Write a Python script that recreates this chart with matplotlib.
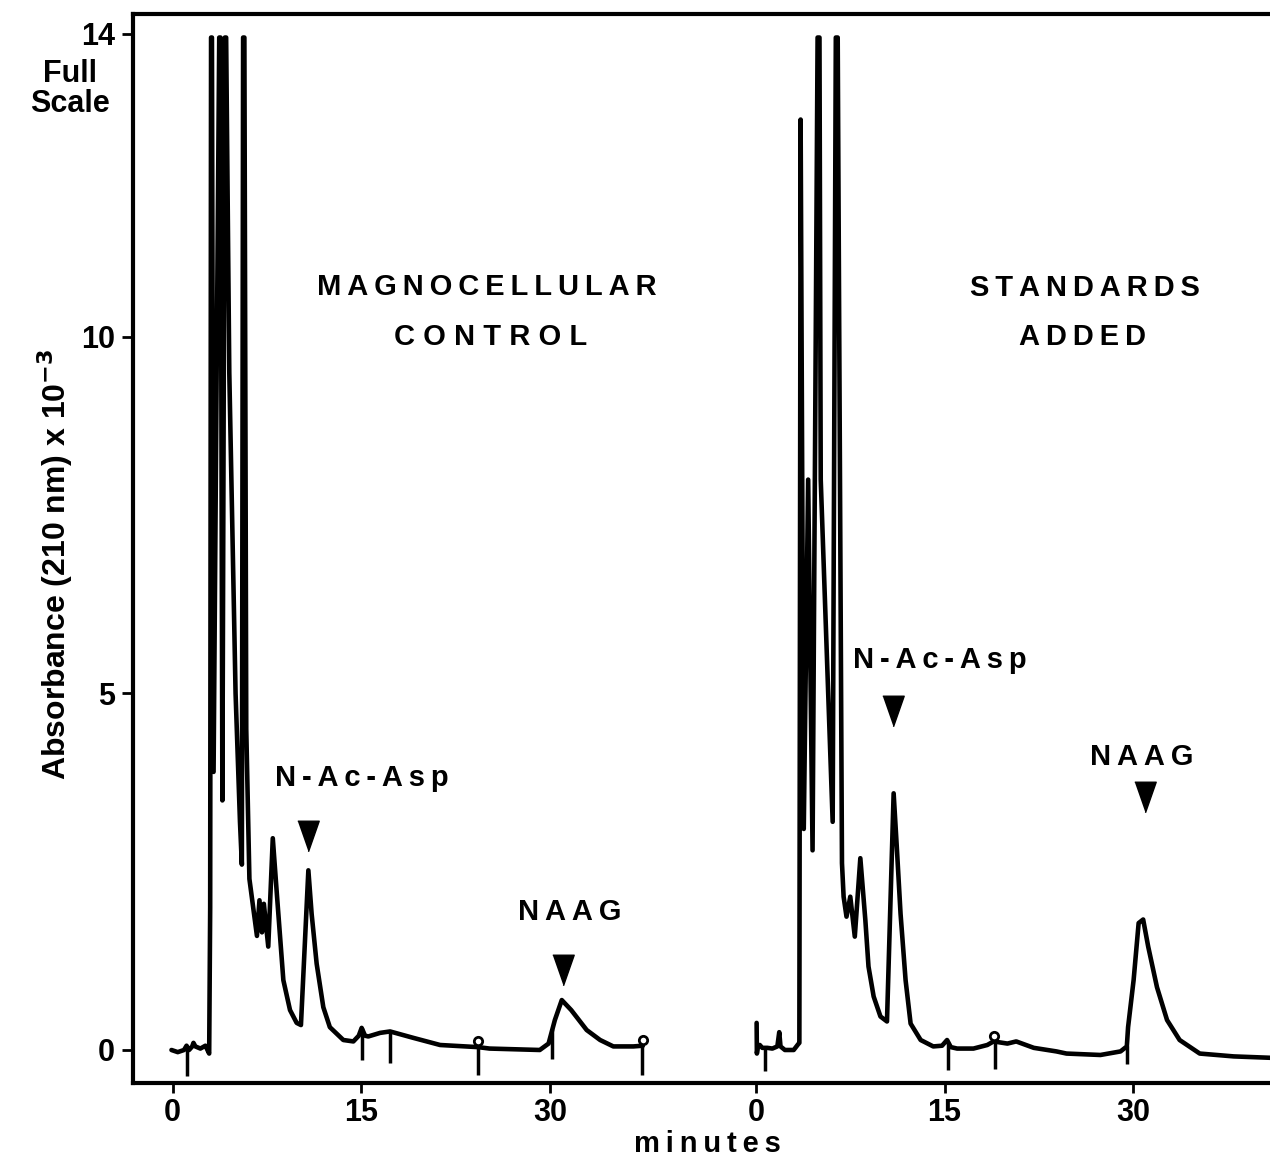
import numpy as np
import matplotlib
matplotlib.use("Agg")
import matplotlib.pyplot as plt

plt.rcParams['font.family'] = ['Liberation Sans', 'DejaVu Sans']
plt.rcParams['font.weight'] = 'bold'

TS = "\u2009"  # thin space used for the wide letter spacing of the original

# control trace (minutes, absorbance x 10^-3)
control_t = [-0.1, 0.4, 0.9, 1.1, 1.3, 1.55, 1.65, 1.8, 2.2, 2.6, 2.9, 2.98,
             3.05, 3.12, 3.25, 3.7, 3.8, 3.95, 4.15, 4.25, 4.5, 5.0, 5.35, 5.5,
             5.6, 5.7, 5.85, 6.1, 6.7, 6.9, 7.1, 7.25, 7.6, 7.96, 8.3, 8.8,
             9.33, 9.86, 10.2, 10.79, 11.05, 11.45, 11.98, 12.5, 13.57, 14.37,
             14.8, 15.03, 15.3, 15.56, 16.5, 17.29, 19.14, 21.27, 24.3, 25.2,
             29.2, 29.9, 30.4, 30.95, 31.7, 32.93, 34.0, 35.05, 36.65, 37.4]
control_v = [0.0, -0.03, 0.0, 0.06, 0.0, 0.05, 0.1, 0.05, 0.02, 0.06, -0.05, 2.0,
             14.2, 14.2, 3.9, 14.2, 14.2, 3.5, 14.2, 14.2, 9.5, 5.0, 3.2, 2.6,
             14.2, 14.2, 4.5, 2.4, 1.6, 2.1, 1.65, 2.05, 1.45, 2.97, 2.15, 0.98,
             0.56, 0.38, 0.35, 2.52, 1.91, 1.21, 0.60, 0.32, 0.14, 0.12,
             0.2, 0.31, 0.2, 0.19, 0.24, 0.26, 0.17, 0.07, 0.04, 0.02,
             0.0, 0.09, 0.42, 0.70, 0.56, 0.28, 0.14, 0.05, 0.05, 0.06]

# standards added trace
std_t = [0.05, 0.07, 0.15, 0.3, 0.5, 0.9, 1.3, 1.7, 1.85, 1.95, 2.3, 3.0, 3.35,
         3.45, 3.55, 3.8, 4.15, 4.5, 4.9, 5.05, 5.15, 6.1, 6.35, 6.5, 6.84, 6.97,
         7.2, 7.5, 7.86, 8.3, 8.7, 8.95, 9.36, 9.9, 10.42, 10.95, 11.2, 11.5,
         11.9, 12.3, 13.1, 14.1, 14.8, 15.2, 15.5, 16.0, 17.3, 18.4, 18.9, 20.0,
         20.7, 22.1, 23.9, 24.7, 27.4, 29.0, 29.5, 29.6, 30.04, 30.44, 30.8,
         31.2, 31.9, 32.7, 33.7, 35.3, 38.0, 41.0]
std_v = [0.38, -0.05, 0.05, 0.07, 0.03, 0.03, 0.02, 0.05, 0.25, 0.05, 0.0, 0.0, 0.08,
         0.1, 13.05, 3.1, 8.0, 2.8, 14.2, 14.2, 8.0, 3.2, 14.2, 14.2, 2.62, 2.15,
         1.87, 2.15, 1.59, 2.69, 1.82, 1.17, 0.75, 0.47, 0.40, 3.6, 2.85, 1.91,
         0.98, 0.37, 0.14, 0.05, 0.06, 0.14, 0.04, 0.02, 0.02, 0.07, 0.12, 0.09,
         0.12, 0.03, -0.02, -0.05, -0.07, -0.02, 0.05, 0.32, 0.98, 1.78, 1.83,
         1.45, 0.88, 0.42, 0.14, -0.05, -0.09, -0.11]

# recorder event marks below the traces
control_mark_t = [1.16, 15.03, 17.29, 24.3, 30.2, 37.36]
control_mark_low = [-0.37, -0.14, -0.18, -0.35, -0.13, -0.35]
std_mark_t = [0.74, 15.3, 19.0, 29.5]
std_mark_low = [-0.3, -0.28, -0.26, -0.2]
control_loop_t = [24.3, 37.4]
std_loop_t = [18.9]

x_tick_minutes = [0, 15, 30]
y_tick_values = [0, 5, 10, 14.25]
y_tick_labels = ["0", "5", "10", "14"]

RIGHT_SHIFT = 46.4  # second chromatogram drawn to the right on the same axis

fig = plt.figure(figsize=(12.7, 11.62), dpi=100)
ax = fig.add_axes([133 / 1270, 1 - 1083 / 1162, (1270 - 133) / 1270, (1083 - 14) / 1162])

line_kw = dict(color="black", lw=3.3, solid_joinstyle="round", solid_capstyle="round")
std_x = np.array(std_t) + RIGHT_SHIFT
ax.plot(control_t, control_v, **line_kw)
ax.plot(std_x, std_v, **line_kw)

ax.vlines(control_mark_t, control_mark_low, np.interp(control_mark_t, control_t, control_v),
          color="black", lw=2.5)
sm = np.array(std_mark_t)
ax.vlines(sm + RIGHT_SHIFT, std_mark_low, np.interp(sm, std_t, std_v), color="black", lw=2.5)
ax.plot(control_loop_t, np.interp(control_loop_t, control_t, control_v) + 0.08, "o",
        mfc="white", mec="black", ms=6, mew=2)
ax.plot(np.array(std_loop_t) + RIGHT_SHIFT, np.interp(std_loop_t, std_t, std_v) + 0.08, "o",
        mfc="white", mec="black", ms=6, mew=2)

ax.set_xlim(-3.16, 87.29)
ax.set_ylim(-0.463, 14.53)

ax.spines["right"].set_visible(False)
for s in ["left", "top", "bottom"]:
    ax.spines[s].set_linewidth(3.0)

xt = x_tick_minutes + [m + RIGHT_SHIFT for m in x_tick_minutes]
ax.set_xticks(xt)
ax.set_xticklabels([str(m) for m in x_tick_minutes] * 2, fontsize=22, fontweight="bold")
ax.set_yticks(y_tick_values)
ax.set_yticklabels(y_tick_labels, fontsize=22, fontweight="bold")
ax.tick_params(axis="x", direction="out", length=7, width=2, pad=4)
ax.tick_params(axis="y", direction="out", length=8, width=2, pad=5)


def spaced(word):
    return TS.join(word)


txt = dict(ha="center", va="center", fontsize=21, fontweight="bold")
ax.text(25.0, 10.7, spaced("MAGNOCELLULAR"), **txt)
ax.text(25.3, 10.0, " ".join("CONTROL"), **txt)
ax.text(72.6, 10.69, spaced("STANDARDS"), **txt)
ax.text(72.4, 10.0, spaced("ADDED"), **txt)
ax.text(15.06, 3.81, spaced("N-Ac-Asp"), **txt)
ax.text(31.6, 1.94, spaced("NAAG"), **txt)
ax.text(61.05, 5.47, spaced("N-Ac-Asp"), **txt)
ax.text(77.1, 4.11, spaced("NAAG"), **txt)

tri = [(-0.7, 1), (0.7, 1), (0, -1)]
ax.plot([10.77, 31.05, 57.3, 77.35], [3.0, 1.12, 4.75, 3.55], linestyle="none",
        marker=tri, ms=22, color="black")

fig.text(0.055, 0.923, "Full\nScale", ha="center", va="center", fontsize=22,
         fontweight="bold", linespacing=1.0)
fig.text(0.0433, 0.514, "Absorbance (210 nm) x 10$^{\\mathbf{-3}}$", rotation=90,
         ha="center", va="center", fontsize=23, fontweight="bold")
fig.text(0.557, 0.0155, spaced("minutes"), ha="center", va="center", fontsize=21,
         fontweight="bold")

fig.savefig("out.png", dpi=100)
